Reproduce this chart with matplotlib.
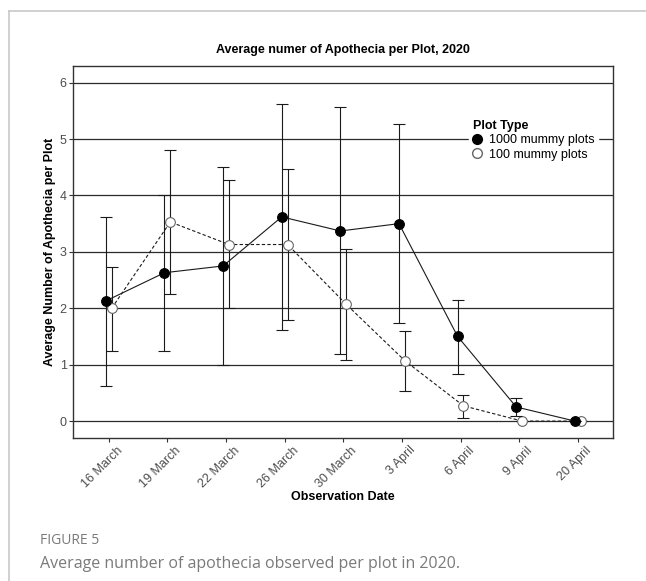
import numpy as np
import matplotlib
matplotlib.use("Agg")
import matplotlib.pyplot as plt
import matplotlib.transforms as mtransforms
from matplotlib.lines import Line2D

plt.rcParams["font.family"] = ["Liberation Sans", "DejaVu Sans"]

# --- dados ---
datas = ["16 March", "19 March", "22 March", "26 March", "30 March",
         "3 April", "6 April", "9 April", "20 April"]

media_1000 = [2.13, 2.63, 2.75, 3.62, 3.37, 3.50, 1.50, 0.25, 0.0]
sup_1000 = [3.62, 4.00, 4.51, 5.62, 5.56, 5.27, 2.15, 0.41, 0.0]
inf_1000 = [0.63, 1.25, 0.99, 1.62, 1.19, 1.74, 0.84, 0.09, 0.0]

media_100 = [2.00, 3.53, 3.13, 3.13, 2.07, 1.07, 0.27, 0.0, 0.0]
sup_100 = [2.73, 4.80, 4.28, 4.47, 3.05, 1.60, 0.47, 0.0, 0.0]
inf_100 = [1.25, 2.26, 2.00, 1.80, 1.08, 0.53, 0.06, 0.0, 0.0]

x = np.arange(len(datas))
desloc = 0.05
escuro = "#1a1a1a"

fig = plt.figure(figsize=(6.46, 5.81), dpi=100)
ax = fig.add_axes([73 / 646, 1 - 438 / 581, 540 / 646, (438 - 65.7) / 581])

# linhas de grade horizontais
for g in range(0, 7):
    ax.axhline(g, color="#2b2b2b", lw=0.9, zorder=0)


def desenha(xs, med, sup, inf, estilo, face, borda, z):
    med = np.array(med)
    err = np.vstack([med - np.array(inf), np.array(sup) - med])
    ax.errorbar(xs, med, yerr=err, fmt="none", ecolor=escuro, elinewidth=0.8,
                capsize=4, capthick=0.8, zorder=z)
    ax.plot(xs, med, linestyle=estilo, color=escuro, lw=0.8, zorder=z + 1)
    ax.plot(xs, med, "o", ms=7, markerfacecolor=face, markeredgecolor=borda,
            markeredgewidth=0.8, linestyle="none", zorder=z + 2)


desenha(x + desloc, media_100, sup_100, inf_100, (0, (3, 2)), "white", "#666666", 3)
desenha(x - desloc, media_1000, sup_1000, inf_1000, "-", "black", "black", 6)

ax.set_xlim(-0.61, 8.6)
ax.set_ylim(-0.3, 6.3)
ax.set_yticks(range(0, 7))
ax.set_xticks(x)
ax.set_xticklabels(datas, rotation=45, ha="right", va="top")
ax.tick_params(axis="both", colors="#333333", labelcolor="#4d4d4d",
               labelsize=9, length=3, width=0.8, pad=1.5)
# rótulos do eixo x deslocados para a direita, como no original
desl = mtransforms.ScaledTranslation(16 / 100, 0, fig.dpi_scale_trans)
for lbl in ax.get_xticklabels():
    lbl.set_transform(lbl.get_transform() + desl)
for s in ax.spines.values():
    s.set_color("#333333")
    s.set_linewidth(1.0)

ax.set_title("Average numer of Apothecia per Plot, 2020", fontsize=9,
             fontweight="bold", pad=9)
ax.set_xlabel("Observation Date", fontsize=9, fontweight="bold", labelpad=1)
ax.set_ylabel("Average Number of Apothecia per Plot", fontsize=9,
              fontweight="bold", labelpad=3)

# legenda
handles = [
    Line2D([0], [0], color=escuro, lw=0.8, marker="o", ms=7,
           markerfacecolor="black", markeredgecolor="black"),
    Line2D([0], [0], color="#666666", lw=0.8, marker="o", ms=7,
           markerfacecolor="white", markeredgecolor="#666666"),
]
leg = ax.legend(handles, ["1000 mummy plots", "100 mummy plots"],
                title="Plot Type", loc="upper left",
                bbox_to_anchor=((469 - 73) / 540, 1 - (116 - 65.7) / 372.3),
                frameon=True, fancybox=False, edgecolor="white",
                framealpha=1, fontsize=9, title_fontsize=9,
                handlelength=0.7, handletextpad=0.6, labelspacing=0.2,
                borderpad=0.3, borderaxespad=0)
leg.get_title().set_fontweight("bold")
leg._legend_box.align = "left"
leg.set_zorder(10)

# moldura da figura (linhas cinza em cima e à esquerda)
fig.add_artist(Line2D([9 / 646, 1], [1 - 11 / 581] * 2, color="#c8c8c8", lw=1.2))
fig.add_artist(Line2D([9 / 646] * 2, [0, 1 - 11 / 581], color="#c8c8c8", lw=1.2))

# legenda da figura
fig.text(40 / 646, 1 - 540 / 581, "FIGURE 5", fontsize=10, color="#7a7a7a",
         family=["Open Sans", "DejaVu Sans"], va="center", ha="left")
fig.text(40 / 646, 1 - 564 / 581,
         "Average number of apothecia observed per plot in 2020.",
         fontsize=11.5, color="#7a7a7a", family=["Open Sans", "DejaVu Sans"],
         va="center", ha="left")

fig.savefig("out.png", dpi=100)
